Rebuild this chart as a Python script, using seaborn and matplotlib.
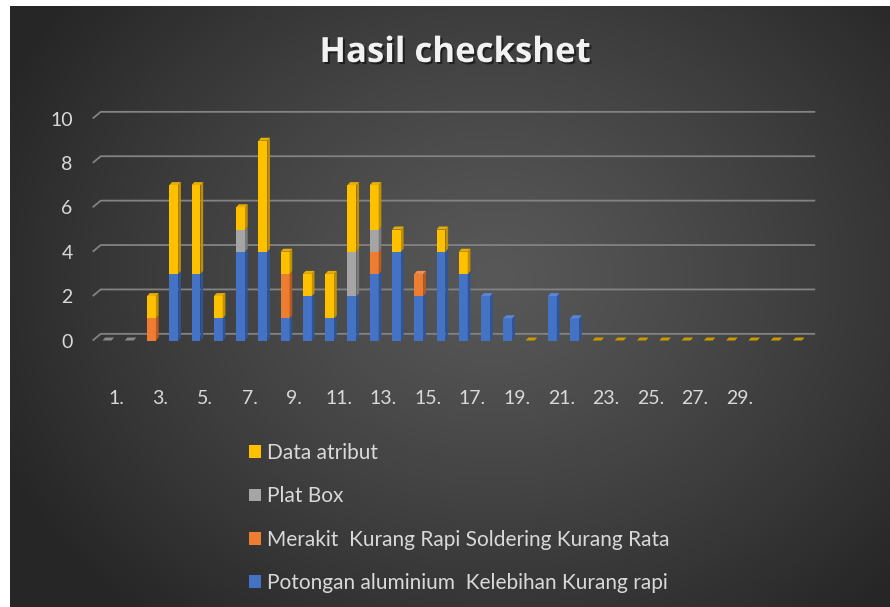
import numpy as np
import pandas as pd
import matplotlib
matplotlib.use("Agg")
import matplotlib.pyplot as plt
import seaborn as sns
from matplotlib.patches import Patch, Polygon
from matplotlib.transforms import ScaledTranslation
import matplotlib.patheffects as pe

# ---------------- data ----------------
categories = [f"{i}." for i in range(1, 33)]
xtick_labels = [f"{i}." for i in range(1, 30, 2)]
series_names = [
    "Potongan aluminium  Kelebihan Kurang rapi",
    "Merakit  Kurang Rapi Soldering Kurang Rata",
    "Plat Box",
    "Data atribut",
]
potongan = [0, 0, 0, 3, 3, 1, 4, 4, 1, 2, 1, 2, 3, 4, 2, 4, 3, 2, 1, 0, 2, 1,
            0, 0, 0, 0, 0, 0, 0, 0, 0, 0]
merakit = [0, 0, 1, 0, 0, 0, 0, 0, 2, 0, 0, 0, 1, 0, 1, 0, 0, 0, 0, 0, 0, 0,
           0, 0, 0, 0, 0, 0, 0, 0, 0, 0]
plat_box = [0, 0, 0, 0, 0, 0, 1, 0, 0, 0, 0, 2, 1, 0, 0, 0, 0, 0, 0, 0, 0, 0,
            0, 0, 0, 0, 0, 0, 0, 0, 0, 0]
data_atribut = [0, 0, 1, 4, 4, 1, 1, 5, 1, 1, 2, 3, 2, 1, 0, 1, 1, 0, 0, 0, 0, 0,
                0, 0, 0, 0, 0, 0, 0, 0, 0, 0]
yticks = [0, 2, 4, 6, 8, 10]

series_values = [potongan, merakit, plat_box, data_atribut]
front_colors = ["#4472C4", "#ED7D31", "#A5A5A5", "#FFC000"]
side_colors = ["#2F5597", "#B85A1E", "#7B7B7B", "#BF9000"]
top_colors = ["#5A86D6", "#F39050", "#BDBDBD", "#E8AE00"]

# ---------------- figure ----------------
W, H, DPI = 890, 607, 100
sns.set_theme(style="white")
plt.rcParams["font.family"] = ["Lato", "DejaVu Sans"]

fig = plt.figure(figsize=(W / DPI, H / DPI), dpi=DPI, facecolor="white")

# background radial gradient
bg = fig.add_axes([10 / W, 0, (W - 10) / W, (H - 6) / H], zorder=-10)
gy, gx = np.mgrid[0:1:300j, 0:1:440j]
r = np.sqrt(((gx - 0.55) / 0.62) ** 2 + ((gy - 0.55) / 0.75) ** 2)
r = np.clip(r, 0, 1)
c_in, c_out = 0x58 / 255, 0x26 / 255
img = c_in + (c_out - c_in) * r ** 1.2
bg.imshow(np.dstack([img, img, img]), aspect="auto", extent=[0, 1, 0, 1],
          origin="lower", interpolation="bilinear")
bg.set_axis_off()

# plot axes
px_left, px_right = 92.7, 815.2
px_y0, px_per_unit = 340.5, 22.2
ax = fig.add_axes([px_left / W, (H - px_y0) / H, (px_right - px_left) / W,
                   10 * px_per_unit / H])
ax.patch.set_alpha(0)

# stacked bars via layered cumulative totals
rows = []
cum = np.zeros(len(categories))
cums = []
for name, vals in zip(series_names, series_values):
    cum = cum + np.array(vals, dtype=float)
    cums.append(cum.copy())
    for c, v, t in zip(categories, vals, cum):
        rows.append({"cat": c, "series": name, "value": v, "cum": t})
df = pd.DataFrame(rows)

bar_w = 0.40
depth_x = 0.12
depth_y = 0.135

for k in range(len(series_names) - 1, -1, -1):
    sub = df[df["series"] == series_names[k]]
    sns.barplot(data=sub, x="cat", y="cum", order=categories, color=front_colors[k],
                width=bar_w, saturation=1, errorbar=None, ax=ax, zorder=3,
                linewidth=0)

# 3D side and top faces
for i in range(len(categories)):
    x = i
    bottom = 0.0
    top_k = None
    for k in range(len(series_names)):
        v = series_values[k][i]
        if v > 0:
            t = bottom + v
            xr = x + bar_w / 2
            ax.add_patch(Polygon([(xr, bottom), (xr + depth_x, bottom + depth_y),
                                  (xr + depth_x, t + depth_y), (xr, t)],
                                 closed=True, facecolor=side_colors[k],
                                 edgecolor="none", zorder=4, clip_on=False))
            bottom = t
            top_k = k
    if top_k is None:
        col = "#8A8A8A" if i < 2 else "#C89A00"
    else:
        col = top_colors[top_k]
    xl = x - bar_w / 2
    ax.add_patch(Polygon([(xl, bottom), (xl + bar_w, bottom),
                          (xl + bar_w + depth_x, bottom + depth_y),
                          (xl + depth_x, bottom + depth_y)],
                         closed=True, facecolor=col, edgecolor="none",
                         zorder=5, clip_on=False))

# gridlines with a 3D back-wall look
x_min, x_max = -0.64, 31.8
gdx, gdy = 0.36, 0.30
for v in yticks:
    ax.plot([x_min, x_min + gdx, x_max], [v, v + gdy, v + gdy], color="#838383",
            lw=1.3, zorder=1, clip_on=False, solid_capstyle="butt")

ax.set_xlim(x_min, x_max)
ax.set_ylim(0, 10)
ax.set_xlabel("")
ax.set_ylabel("")
for s in ax.spines.values():
    s.set_visible(False)
ax.grid(False)

ax.set_yticks(yticks)
ax.set_yticklabels([str(v) for v in yticks])
ax.tick_params(axis="y", length=0, pad=14.4, labelsize=14, labelcolor="#D9D9D9")

tick_pos = [categories.index(l) for l in xtick_labels]
ax.set_xticks(tick_pos)
ax.set_xticklabels(xtick_labels)
ax.tick_params(axis="x", length=0, pad=36, labelsize=14, labelcolor="#D9D9D9")
for lab in ax.get_xticklabels():
    lab.set_transform(lab.get_transform() + ScaledTranslation(9 / DPI, 0, fig.dpi_scale_trans))

# title
fig.text(455 / W, (H - 62) / H, "Hasil checkshet", ha="center", va="baseline",
         fontsize=25, fontweight="bold", color="#F2F2F2",
         family=["Open Sans", "DejaVu Sans"],
         path_effects=[pe.withSimplePatchShadow(offset=(1.5, -1.5), shadow_rgbFace="black", alpha=0.5)])

# legend (reverse order)
handles = [Patch(facecolor=front_colors[k], edgecolor="none", label=series_names[k])
           for k in range(len(series_names) - 1, -1, -1)]
leg = fig.legend(handles=handles, loc="upper left",
                 bbox_to_anchor=(249 / W, (H - 443) / H), frameon=False,
                 fontsize=15, labelcolor="#D9D9D9", handlelength=0.58,
                 handleheight=0.58, handletextpad=0.3, labelspacing=1.12,
                 borderpad=0, borderaxespad=0)

fig.savefig("out.png", dpi=DPI, facecolor="white")
